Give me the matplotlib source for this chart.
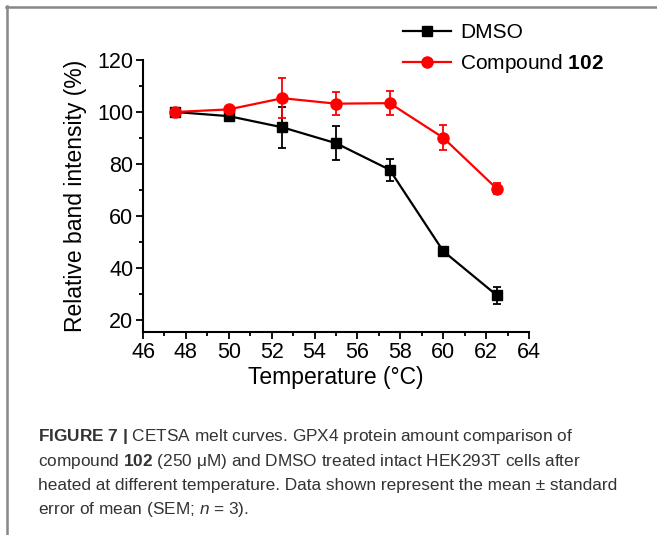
import matplotlib
matplotlib.use("Agg")
import matplotlib.pyplot as plt
from matplotlib.lines import Line2D
import numpy as np

plt.rcParams['font.family'] = ['Liberation Sans', 'DejaVu Sans']
plt.rcParams['mathtext.fontset'] = 'custom'
plt.rcParams['mathtext.rm'] = 'Liberation Sans'
plt.rcParams['mathtext.bf'] = 'Liberation Sans:bold'
plt.rcParams['mathtext.it'] = 'Liberation Sans:italic'

# datos
temps = [47.5, 50, 52.5, 55, 57.5, 60, 62.5]
dmso = [100, 98.4, 94.1, 88.0, 77.8, 46.5, 29.5]
dmso_err = [0.5, 1.0, 7.9, 6.6, 4.2, 1.0, 3.4]
comp = [100, 101.0, 105.3, 103.2, 103.4, 90.1, 70.5]
comp_err = [0.5, 0.8, 7.6, 4.5, 4.6, 4.8, 2.2]

xticks = [46, 48, 50, 52, 54, 56, 58, 60, 62, 64]
yticks = [20, 40, 60, 80, 100, 120]

caption = [
    r"$\mathbf{FIGURE\ 7\ |}$ CETSA melt curves. GPX4 protein amount comparison of",
    r"compound $\mathbf{102}$ (250 μM) and DMSO treated intact HEK293T cells after",
    r"heated at different temperature. Data shown represent the mean ± standard",
    r"error of mean (SEM; $\mathit{n}$ = 3).",
]

fig = plt.figure(figsize=(6.57, 5.35), dpi=100)
ax = fig.add_axes([0.2177, 0.3794, 0.5875, 0.5085])

ax.errorbar(temps, dmso, yerr=dmso_err, fmt='none', ecolor='black',
            capsize=3, elinewidth=1.3, capthick=1.3, zorder=3)
ax.plot(temps, dmso, color='black', marker='s', ms=7, lw=1.6, label='DMSO', zorder=3)
ax.errorbar(temps, comp, yerr=comp_err, fmt='none', ecolor='#ff0000',
            capsize=3, elinewidth=1.3, capthick=1.3, zorder=4)
ax.plot(temps, comp, color='#ff0000', marker='o', ms=8, lw=1.6,
        label=r'Compound $\mathbf{102}$', zorder=4)

ax.set_xlim(46, 64)
ax.set_ylim(15.4, 120)
ax.set_xticks(xticks)
ax.set_yticks(yticks)
ax.set_xticks(np.arange(47, 64, 2), minor=True)
ax.set_yticks(np.arange(30, 120, 20), minor=True)
ax.tick_params(axis='both', which='major', direction='out', length=5, width=1.3,
               labelsize=15.5, pad=2)
ax.tick_params(axis='both', which='minor', direction='out', length=3, width=1.3)
for s in ['top', 'right']:
    ax.spines[s].set_visible(False)
for s in ['left', 'bottom']:
    ax.spines[s].set_linewidth(1.5)

ax.set_xlabel('Temperature (°C)', fontsize=16.5, labelpad=2)
ax.set_ylabel('Relative band intensity (%)', fontsize=16.5, labelpad=7)

fig.legend(loc='upper left', bbox_to_anchor=(403 / 657, 1 - 23 / 535), frameon=False,
           fontsize=15, handlelength=2.3, handletextpad=0.45, labelspacing=0.5,
           borderpad=0, borderaxespad=0)

for i, line in enumerate(caption):
    fig.text(38 / 657, 1 - (437 + i * 24.3) / 535, line, fontsize=12.4,
             color='#333333', va='center', ha='left')

# marco gris
fig.add_artist(Line2D([6 / 657, 1], [1 - 7 / 535, 1 - 7 / 535],
                      transform=fig.transFigure, color='#888888', lw=1.8))
fig.add_artist(Line2D([7 / 657, 7 / 657], [0, 1 - 6 / 535],
                      transform=fig.transFigure, color='#888888', lw=1.8))

fig.savefig('out.png', dpi=100)
